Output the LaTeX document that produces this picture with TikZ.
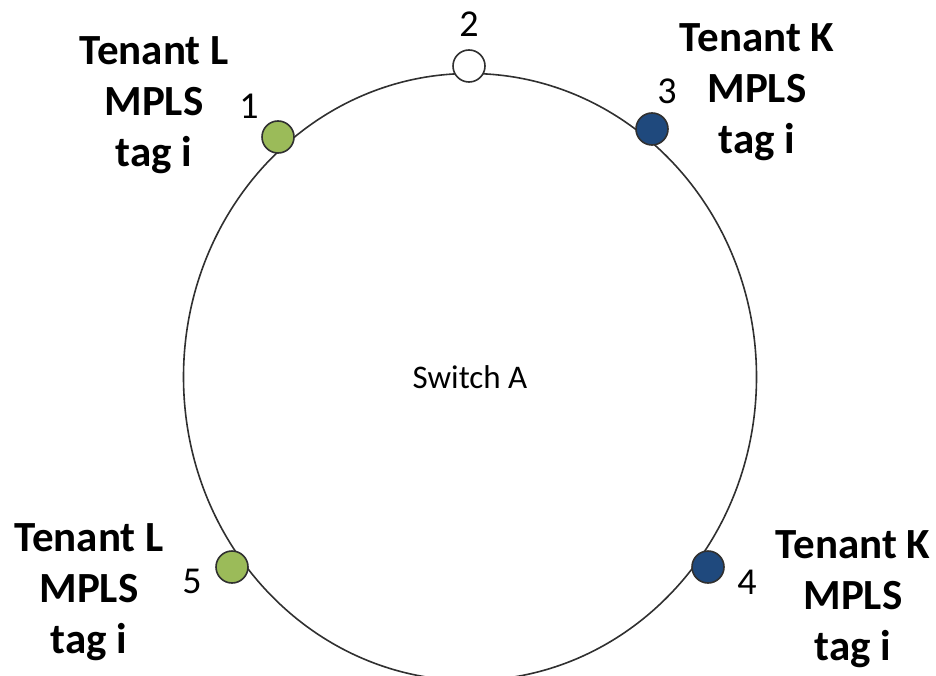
\documentclass[tikz,border=0pt]{standalone}
\usepackage{fontspec}
\setmainfont{Carlito}
\usetikzlibrary{shapes.geometric}
\definecolor{portgreen}{HTML}{9BBB59}
\definecolor{portblue}{HTML}{1F497D}
\definecolor{rimgray}{HTML}{303030}
\tikzset{
  switchbody/.style={draw=rimgray, line width=1.6pt, ellipse, inner sep=0pt,
    minimum width=573pt, minimum height=607pt,
    font=\fontsize{33}{38}\selectfont},
  port/.style={circle, draw=rimgray, line width=1.6pt, minimum size=32pt, inner sep=0pt},
  greenport/.style={port, fill=portgreen},
  blueport/.style={port, fill=portblue},
  freeport/.style={port, fill=white},
  portnum/.style={inner sep=0pt, font=\fontsize{38}{42}\selectfont},
  tenant/.style={align=center, inner sep=0pt, font=\fontsize{43}{51}\selectfont\bfseries}
}
\begin{document}
\begin{tikzpicture}[x=1pt, y=-1pt]
  \useasboundingbox (0,0) rectangle (936,676);
  % switch outline
  \node[switchbody] (sw) at (470,377) {Switch A};
  % ports on the rim
  \node[greenport] (p1) at (278,137) {};
  \node[freeport]  (p2) at (469,66)  {};
  \node[blueport]  (p3) at (652,129) {};
  \node[blueport]  (p4) at (708,567) {};
  \node[greenport] (p5) at (232,567) {};
  % port numbers
  \node[portnum] (n1) at (249,106) {1};
  \node[portnum] (n2) at (469,24)  {2};
  \node[portnum] (n3) at (667,91)  {3};
  \node[portnum] (n4) at (747,582) {4};
  \node[portnum] (n5) at (192,581) {5};
  % tenant labels
  \node[tenant] (t1) at (154,105) {Tenant L\\MPLS\\tag i};
  \node[tenant] (t3) at (757,92)  {Tenant K\\MPLS\\tag i};
  \node[tenant] (t4) at (853,599) {Tenant K\\MPLS\\tag i};
  \node[tenant] (t5) at (89,592)  {Tenant L\\MPLS\\tag i};
\end{tikzpicture}
\end{document}
